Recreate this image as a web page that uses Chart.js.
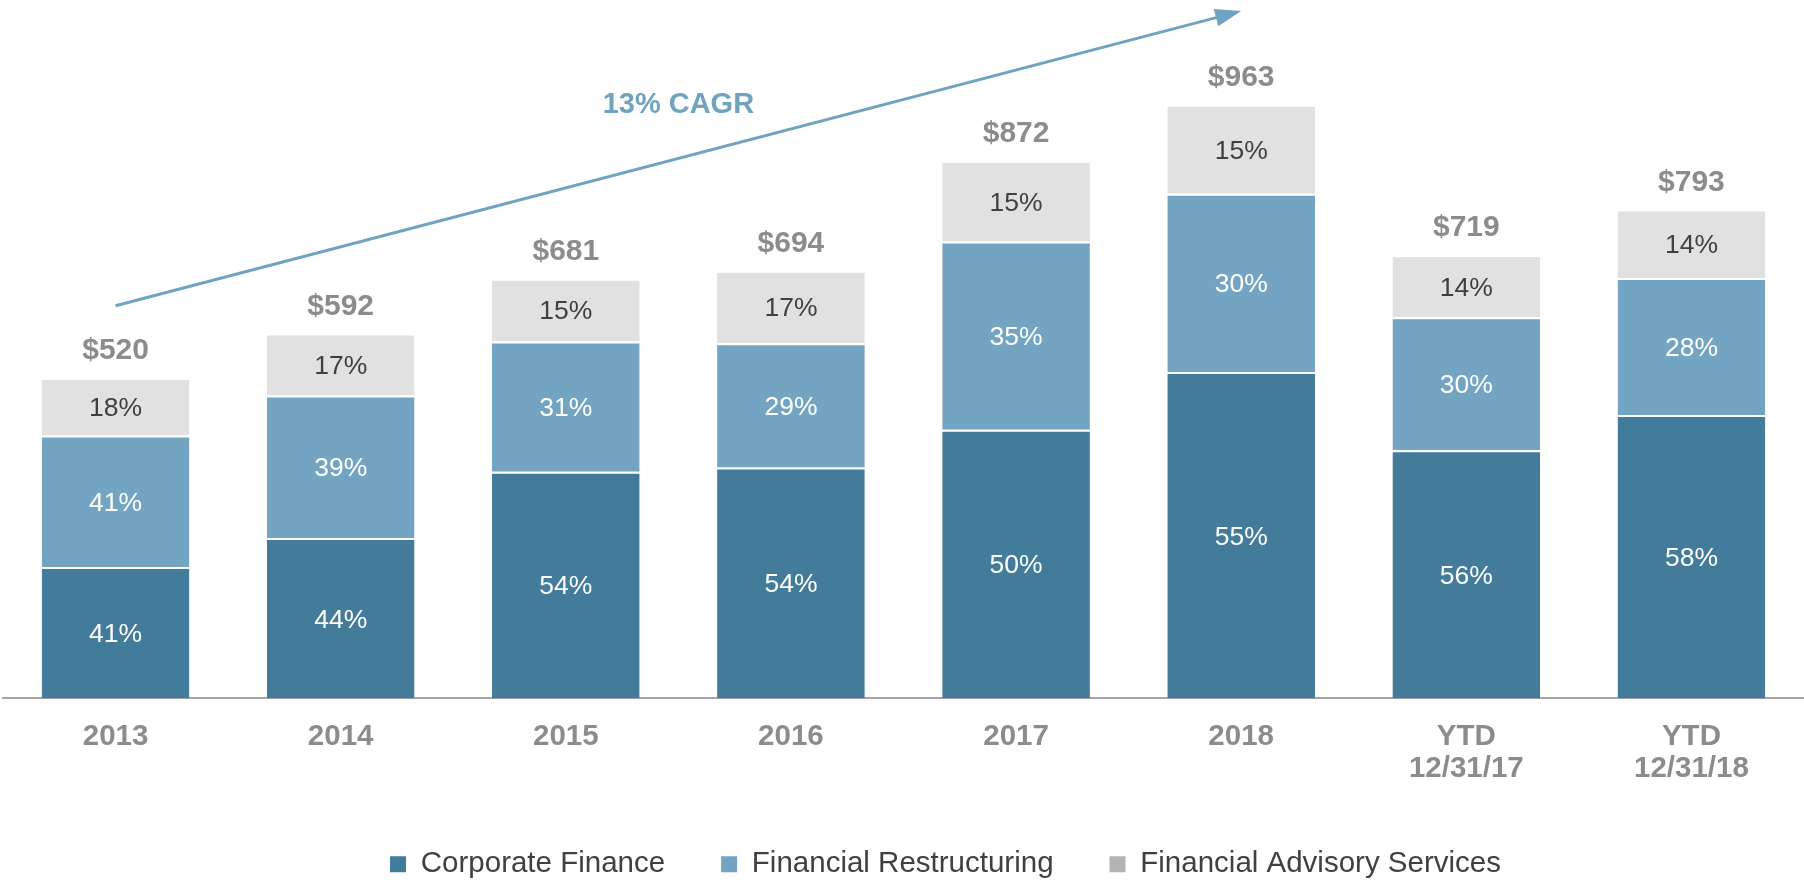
<!DOCTYPE html>
<html>
<head>
<meta charset="utf-8">
<script src="https://cdn.jsdelivr.net/npm/chart.js@4"></script>
<style>
  html, body { margin: 0; padding: 0; background: #fff; }
</style>
</head>
<body>
<canvas id="myChart" width="1804" height="880"></canvas>
<script>
const categories = ['2013', '2014', '2015', '2016', '2017', '2018', ['YTD', '12/31/17'], ['YTD', '12/31/18']];
const totals = [520, 592, 681, 694, 872, 963, 719, 793];
const corporatePct = [41, 44, 54, 54, 50, 55, 56, 58];
const restructuringPct = [41, 39, 31, 29, 35, 30, 30, 28];
const advisoryPct = [18, 17, 15, 17, 15, 15, 14, 14];
const seriesNames = ['Corporate Finance', 'Financial Restructuring', 'Financial Advisory Services'];
const cagrText = '13% CAGR';

// arrow goes from the 2013 slot to the 2018 slot (values on the $ scale)
const arrowStart = [0, 637];
const arrowEnd = [5, 1115];
const cagrAt = [2.5, 962];

const FONT = "'Liberation Sans', Arial, sans-serif";
const barColors = ['#437b9b', '#73a5c2', '#e1e1e1'];
const legendColors = ['#437b9b', '#73a5c2', '#b4b4b4'];

Chart.defaults.font.family = FONT;

function segment(pct) {
    return pct.map(function (p, i) {
        return totals[i] * p / 100;
    });
}

const segmentLabels = {
    id: 'segmentLabels',
    afterDatasetsDraw(chart) {
        const ctx = chart.ctx;
        ctx.save();
        ctx.textAlign = 'center';
        ctx.textBaseline = 'middle';
        ctx.font = '26.5px ' + FONT;
        chart.data.datasets.forEach((ds, d) => {
            chart.getDatasetMeta(d).data.forEach((bar, i) => {
                ctx.fillStyle = d === 2 ? '#404040' : '#ffffff';
                ctx.fillText(ds.pct[i] + '%', bar.x, (bar.y + bar.base) / 2 + 2);
            });
        });
        ctx.font = 'bold 30px ' + FONT;
        ctx.fillStyle = '#8c8c8c';
        chart.getDatasetMeta(2).data.forEach((bar, i) => {
            ctx.fillText('$' + totals[i], bar.x, bar.y - 27);
        });
        ctx.restore();
    }
};

const cagrArrow = {
    id: 'cagrArrow',
    afterDraw(chart) {
        const { ctx, scales: { x, y } } = chart;
        const x1 = x.getPixelForValue(arrowStart[0]), y1 = y.getPixelForValue(arrowStart[1]);
        const x2 = x.getPixelForValue(arrowEnd[0]), y2 = y.getPixelForValue(arrowEnd[1]);
        const a = Math.atan2(y2 - y1, x2 - x1);
        const len = 26, half = 9;
        const c = Math.cos(a), s = Math.sin(a);
        ctx.save();
        ctx.strokeStyle = '#6fa3c0';
        ctx.fillStyle = '#6fa3c0';
        ctx.lineWidth = 3;
        ctx.beginPath();
        ctx.moveTo(x1, y1);
        ctx.lineTo(x2 - c * len * 0.8, y2 - s * len * 0.8);
        ctx.stroke();
        ctx.beginPath();
        ctx.moveTo(x2, y2);
        ctx.lineTo(x2 - c * len - s * half, y2 - s * len + c * half);
        ctx.lineTo(x2 - c * len + s * half, y2 - s * len - c * half);
        ctx.closePath();
        ctx.fill();
        ctx.font = 'bold 29px ' + FONT;
        ctx.textAlign = 'center';
        ctx.textBaseline = 'middle';
        ctx.fillText(cagrText, x.getPixelForValue(cagrAt[0]), y.getPixelForValue(cagrAt[1]));
        ctx.restore();
    }
};

// nudge the legend a bit right/up like the original slide
const legendShift = {
    id: 'legendShift',
    afterLayout(chart) {
        const lg = chart.legend;
        lg.left += 42; lg.right += 42;
        lg.top -= 13; lg.bottom -= 13;
    }
};

function makeSet(i, pct) {
    return {
        label: seriesNames[i],
        data: segment(pct),
        pct: pct,
        backgroundColor: barColors[i],
        borderColor: '#ffffff',
        borderWidth: { top: 2, bottom: 0, left: 0, right: 0 },
        borderSkipped: false,
        barPercentage: 0.656,
        categoryPercentage: 1
    };
}

const data = {
    labels: categories,
    datasets: [
        makeSet(0, corporatePct),
        makeSet(1, restructuringPct),
        makeSet(2, advisoryPct)
    ]
};

const config = {
    type: 'bar',
    data,
    options: {
        responsive: false,
        animation: false,
        layout: { padding: { top: 8, left: 3, right: 0, bottom: -22 } },
        scales: {
            x: {
                stacked: true,
                offset: true,
                grid: { display: false, drawTicks: false },
                border: { display: true, color: '#a6a6a6', width: 2 },
                ticks: {
                    padding: 22,
                    color: '#8c8c8c',
                    font: { size: 29.5, weight: 'bold', lineHeight: 1.085 }
                }
            },
            y: {
                stacked: true,
                display: false,
                min: 0,
                max: 1120
            }
        },
        plugins: {
            tooltip: { enabled: false },
            legend: {
                position: 'bottom',
                labels: {
                    boxWidth: 16,
                    boxHeight: 16,
                    padding: 56,
                    color: '#404040',
                    font: { size: 29.5 },
                    generateLabels(chart) {
                        const items = Chart.defaults.plugins.legend.labels.generateLabels(chart);
                        items.forEach((it, i) => {
                            it.fillStyle = legendColors[i];
                            it.strokeStyle = legendColors[i];
                            it.lineWidth = 0;
                        });
                        return items;
                    }
                }
            }
        }
    },
    plugins: [segmentLabels, cagrArrow, legendShift]
};

const myChart = new Chart(document.getElementById('myChart'), config);
</script>
</body>
</html>
